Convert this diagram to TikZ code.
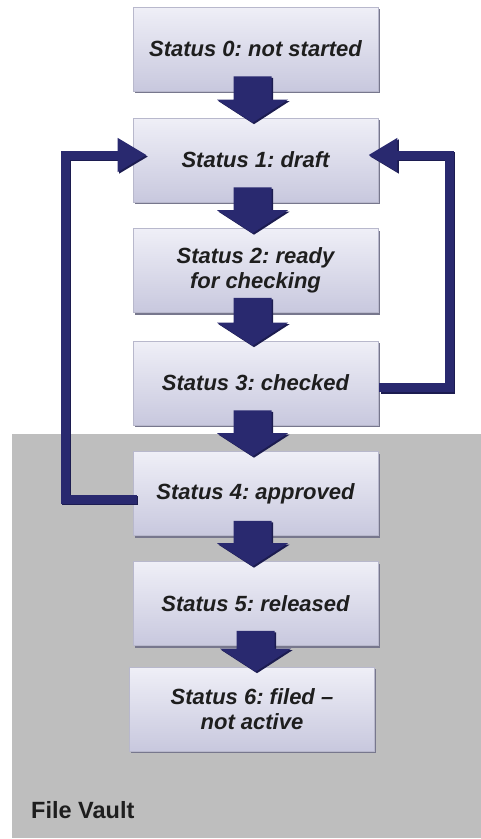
\documentclass[tikz,border=0pt]{standalone}
\usepackage{fontspec}
\setmainfont{Liberation Sans}
\usetikzlibrary{calc,arrows.meta,shadows}
\frenchspacing

\definecolor{navy}{HTML}{29296F}
\definecolor{navydark}{HTML}{1C1C50}
\definecolor{vault}{HTML}{BEBEBE}
\definecolor{boxtop}{HTML}{EFEFF7}
\definecolor{boxbot}{HTML}{C8C8DE}
\definecolor{boxedge}{HTML}{B8B8CC}
\definecolor{boxshade}{HTML}{77778D}
\definecolor{ink}{HTML}{1E1E1E}

\tikzset{
  status/.style={rectangle, minimum width=245pt, minimum height=84pt,
    inner sep=0pt, top color=boxtop, bottom color=boxbot,
    draw=boxedge, line width=0.6pt,
    drop shadow={shadow xshift=1.5pt, shadow yshift=-2pt, fill=boxshade, opacity=1},
    font=\fontsize{22}{25}\selectfont\bfseries\itshape, text=ink, align=center},
  loopline/.style={line width=9pt, line join=miter, line cap=butt,
    -{Triangle[length=29pt,width=32pt]}},
  vaultlabel/.style={font=\fontsize{23.5}{28}\selectfont\bfseries, text=ink,
    inner sep=0pt, anchor=base west}
}

% block arrow from the bottom of one status box to the top of the next
\newcommand{\stepflow}[3]{%
  \coordinate (s) at ($(#1.south)+(#3,-15)$);
  \coordinate (t) at ($(#2.north)+(#3,5)$);
  \foreach \dx/\col in {1.5/navydark,0/navy}{%
    \fill[\col] ($(s)+(-19+\dx,\dx)$) -- ($(s)+(19+\dx,\dx)$)
      -- ($(s|-t)+(19+\dx,-23+\dx)$) -- ($(s|-t)+(35.5+\dx,-23+\dx)$)
      -- ($(s|-t)+(\dx,\dx)$)
      -- ($(s|-t)+(-35.5+\dx,-23+\dx)$) -- ($(s|-t)+(-19+\dx,-23+\dx)$) -- cycle;
  }%
}

\begin{document}
\begin{tikzpicture}[x=1pt,y=-1pt]
  \useasboundingbox (0,0) rectangle (481,839);

  % file vault area
  \fill[vault] (12,434) rectangle (481,838);
  \node[vaultlabel] (vault) at (31,818) {File Vault};

  % status boxes
  \node[status] (b0) at (255.5,49)    {Status 0: not started};
  \node[status] (b1) at (255.5,160)   {Status 1: draft};
  \node[status] (b2) at (255.5,270.5) {Status 2: ready\\for checking};
  \node[status] (b3) at (255.5,383)   {Status 3: checked};
  \node[status] (b4) at (255.5,493.5) {Status 4: approved};
  \node[status] (b5) at (255.5,603.5) {Status 5: released};
  \node[status] (b6) at (252,709)     {Status 6: filed --\\not active};

  % feedback loops back to the draft status
  \coordinate (l0) at ($(b4.west)+(4,5.5)$);
  \coordinate (l1) at (65,499);
  \coordinate (l2) at (65,155);
  \coordinate (l3) at ($(b1.west)+(14,-5)$);
  \coordinate (r0) at ($(b3.east)+(1,4.5)$);
  \coordinate (r1) at (449,387.5);
  \coordinate (r2) at (449,155);
  \coordinate (r3) at ($(b1.east)+(-10,-5)$);
  \foreach \dx/\col in {1.5/navydark,0/navy}{%
    \draw[loopline,\col] ($(l0)+(\dx,\dx)$) -- ($(l1)+(\dx,\dx)$)
      -- ($(l2)+(\dx,\dx)$) -- ($(l3)+(\dx,\dx)$);
    \draw[loopline,\col] ($(r0)+(\dx,\dx)$) -- ($(r1)+(\dx,\dx)$)
      -- ($(r2)+(\dx,\dx)$) -- ($(r3)+(\dx,\dx)$);
  }

  % forward steps
  \stepflow{b0}{b1}{-3}
  \stepflow{b1}{b2}{-3}
  \stepflow{b2}{b3}{-3}
  \stepflow{b3}{b4}{-3}
  \stepflow{b4}{b5}{-3}
  \stepflow{b5}{b6}{0}
\end{tikzpicture}
\end{document}
